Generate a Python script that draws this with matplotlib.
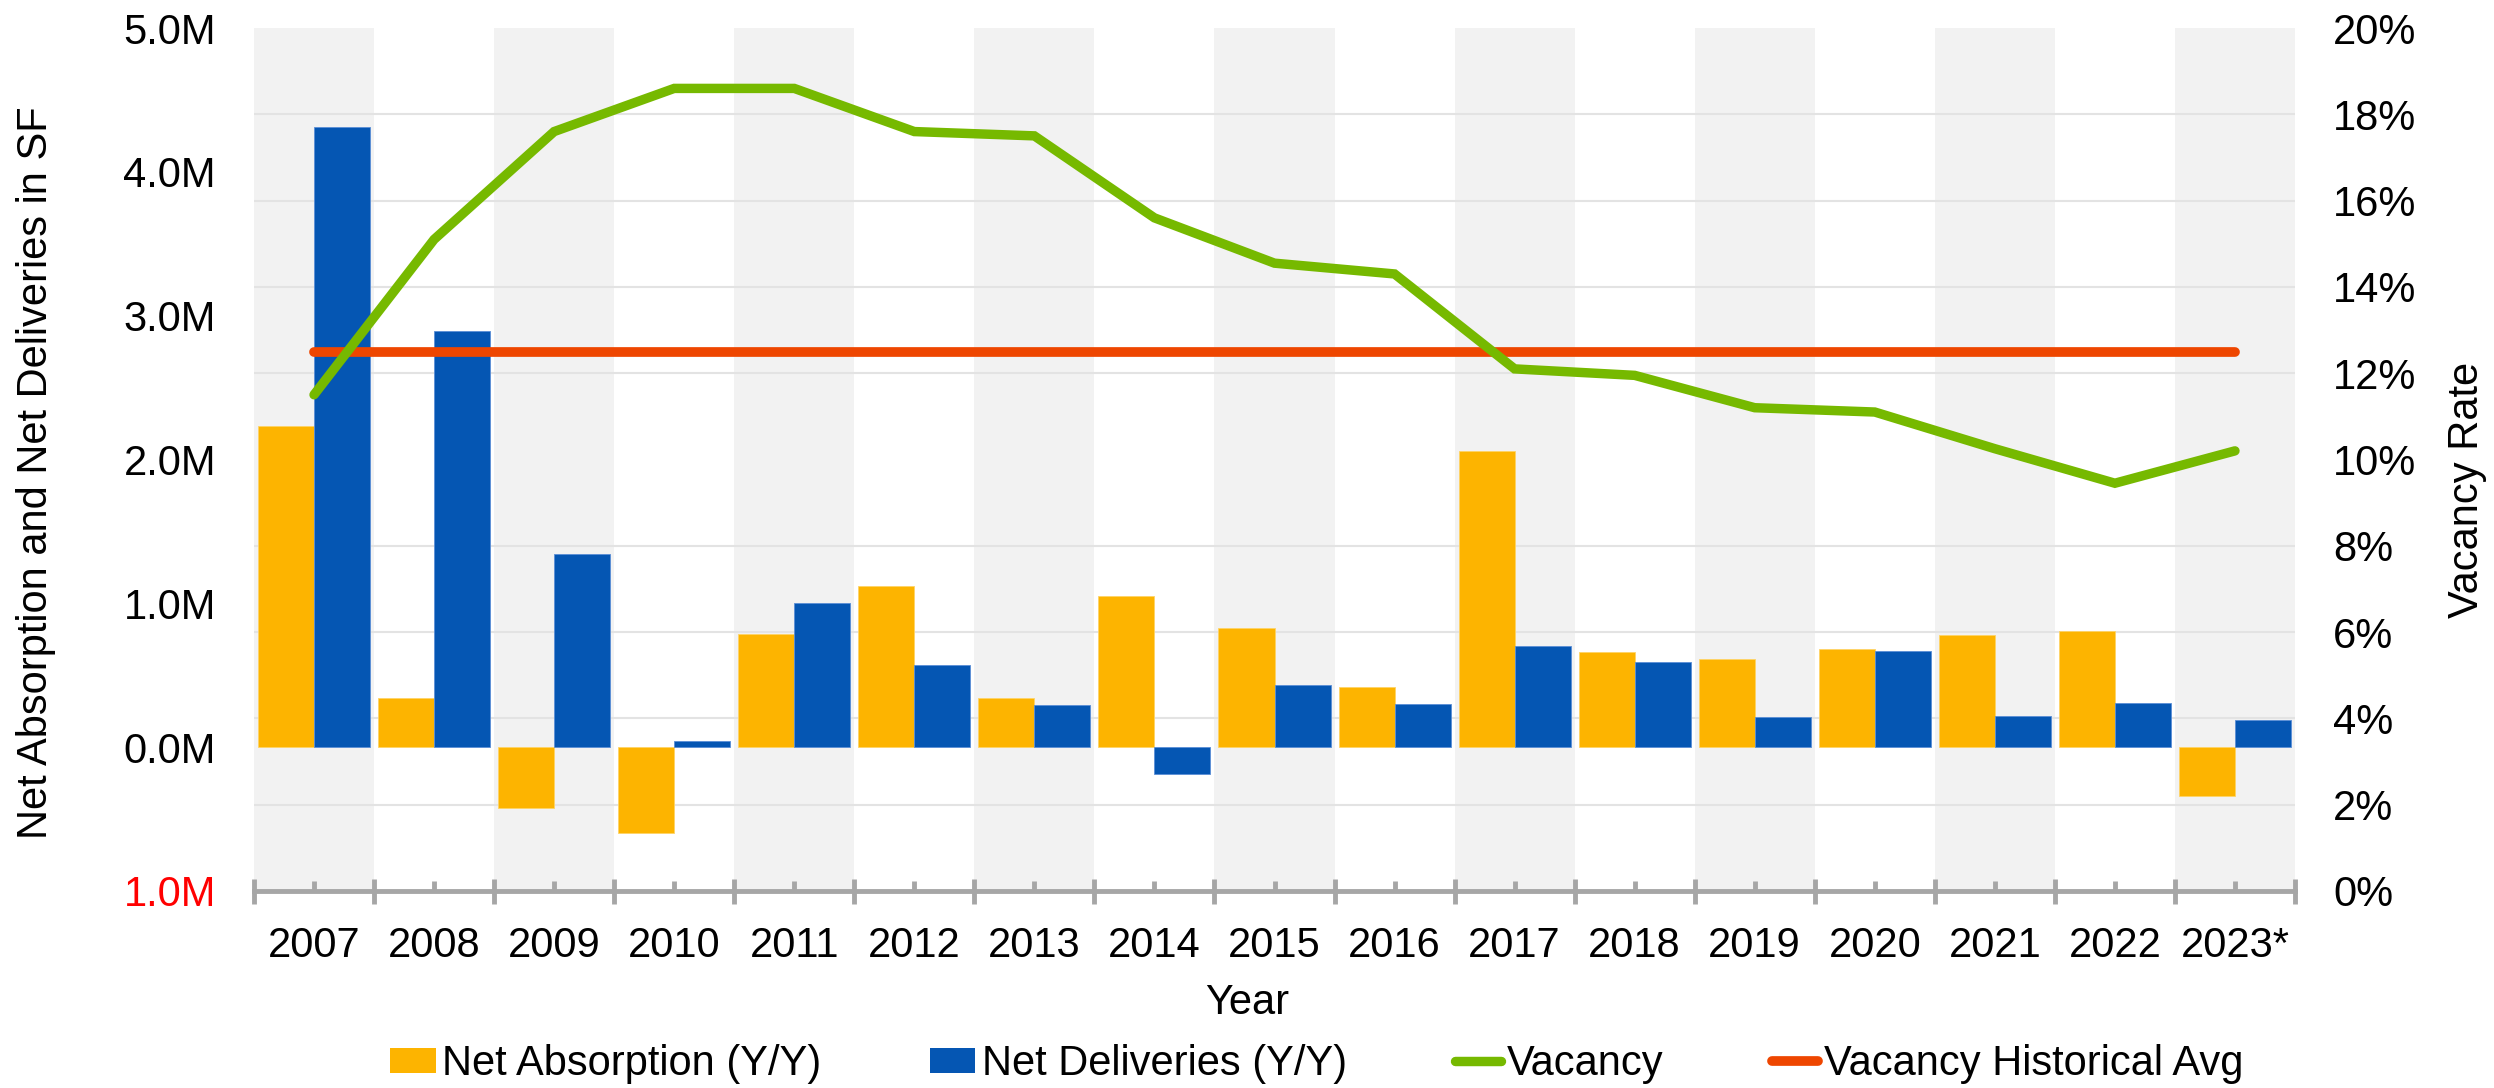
import matplotlib
matplotlib.use("Agg")
import matplotlib.pyplot as plt
import numpy as np
from matplotlib.lines import Line2D
from matplotlib.patches import Patch

plt.rcParams['font.family'] = ['Liberation Sans', 'DejaVu Sans']

# ---------------- data ----------------
years = ['2007', '2008', '2009', '2010', '2011', '2012', '2013', '2014', '2015',
         '2016', '2017', '2018', '2019', '2020', '2021', '2022', '2023*']
net_absorption_m = [2.23, 0.34, -0.42, -0.60, 0.79, 1.12, 0.34, 1.05, 0.83,
                    0.42, 2.06, 0.66, 0.61, 0.68, 0.78, 0.81, -0.34]
net_deliveries_m = [4.31, 2.89, 1.34, 0.04, 1.00, 0.57, 0.29, -0.19, 0.43,
                    0.30, 0.70, 0.59, 0.21, 0.67, 0.22, 0.31, 0.19]
vacancy_pct = [11.5, 15.1, 17.6, 18.6, 18.6, 17.6, 17.5, 15.6, 14.55,
               14.3, 12.1, 11.95, 11.2, 11.1, 10.25, 9.45, 10.2]
vacancy_hist_avg_pct = 12.5

left_ticks_m = [-1, 0, 1, 2, 3, 4, 5]
right_ticks_pct = [0, 2, 4, 6, 8, 10, 12, 14, 16, 18, 20]

# ---------------- style ----------------
C_ABS = '#FDB400'
C_DEL = '#0556B3'
C_VAC = '#76B900'
C_AVG = '#EE4600'
C_BAND = '#F2F2F2'
C_GRID = '#E3E3E3'
C_AXIS = '#A6A6A6'
FS = 30

W, H = 2494, 1088
fig = plt.figure(figsize=(W / 100, H / 100), dpi=100)
x0, x1, y_top, y_bot = 254, 2295, 28, 891
ax = fig.add_axes([x0 / W, (H - y_bot) / H, (x1 - x0) / W, (y_bot - y_top) / H])

n = len(years)
x = np.arange(n)
bw = 0.4667

# alternating background bands
for i in range(0, n, 2):
    ax.axvspan(i - 0.5, i + 0.5, color=C_BAND, lw=0, zorder=0.2)

# bars (values in SF)
na = np.array(net_absorption_m) * 1e6
nd = np.array(net_deliveries_m) * 1e6
ax.bar(x - bw / 2, na, width=bw, color=C_ABS, edgecolor='#FFD466', linewidth=0.6, zorder=2)
ax.bar(x + bw / 2, nd, width=bw, color=C_DEL, edgecolor='#5A8ED6', linewidth=0.6, zorder=2)

ax.set_xlim(-0.5, n - 0.5)
ylo, yhi = left_ticks_m[0] * 1e6, left_ticks_m[-1] * 1e6
ax.set_ylim(ylo, yhi)

# left ticks
ax.set_yticks([t * 1e6 for t in left_ticks_m])
ax.set_yticklabels([f"{abs(t):.1f}M" for t in left_ticks_m])
for t, lab in zip(left_ticks_m, ax.get_yticklabels()):
    if t < 0:
        lab.set_color('#FF0000')
ax.tick_params(axis='y', length=0, pad=27.4, labelsize=FS)

# gridlines aligned with right-axis ticks (drawn on primary axis, below bars)
grid_pos = [ylo + (yhi - ylo) * p / right_ticks_pct[-1] for p in right_ticks_pct]
ax.set_yticks(grid_pos, minor=True)
ax.tick_params(axis='y', which='minor', length=0)
ax.set_axisbelow(True)
ax.grid(True, axis='y', which='minor', color=C_GRID, linewidth=1.5, zorder=0.5)
ax.grid(False, axis='y', which='major')

# x ticks
ax.set_xticks(x)
ax.set_xticklabels(years)
ax.set_xticks(np.arange(-0.5, n, 1.0), minor=True)
ax.tick_params(axis='x', which='major', direction='in', length=7, width=3.5,
               color=C_AXIS, pad=25, labelsize=FS)
ax.tick_params(axis='x', which='minor', direction='inout', length=18, width=3.5,
               color=C_AXIS)

for s in ['top', 'left', 'right']:
    ax.spines[s].set_visible(False)
ax.spines['bottom'].set_color(C_AXIS)
ax.spines['bottom'].set_linewidth(3.5)
ax.spines['bottom'].set_zorder(3)

ax.set_ylabel('Net Absorption and Net Deliveries in SF', fontsize=FS)
ax.yaxis.set_label_coords(56 / W, (H - 473) / H, transform=fig.transFigure)
ax.set_xlabel('Year', fontsize=FS)
ax.xaxis.set_label_coords(0.5, (H - 983) / H, transform=fig.transFigure)

# right axis with lines
ax2 = ax.twinx()
ax2.set_ylim(0, right_ticks_pct[-1] / 100)
ax2.set_yticks([p / 100 for p in right_ticks_pct])
ax2.set_yticklabels([f"{p}%" for p in right_ticks_pct])
ax2.tick_params(axis='y', length=0, pad=27.4, labelsize=FS)
for s in ['top', 'left', 'right', 'bottom']:
    ax2.spines[s].set_visible(False)

vac = np.array(vacancy_pct) / 100
avg = np.full(n, vacancy_hist_avg_pct / 100)
ax2.plot(x, avg, color=C_AVG, linewidth=7, solid_capstyle='round', zorder=3)
ax2.plot(x, vac, color=C_VAC, linewidth=6.8, solid_capstyle='round',
         solid_joinstyle='miter', zorder=4)
ax2.set_ylabel('Vacancy Rate', fontsize=FS)
ax2.yaxis.set_label_coords(2447 / W, (H - 490) / H, transform=fig.transFigure)

# legend
handles = [
    Patch(facecolor=C_ABS, edgecolor='none'),
    Patch(facecolor=C_DEL, edgecolor='none'),
    Line2D([0], [0], color=C_VAC, linewidth=6.8, solid_capstyle='round'),
    Line2D([0], [0], color=C_AVG, linewidth=7, solid_capstyle='round'),
]
labels = ['Net Absorption (Y/Y)', 'Net Deliveries (Y/Y)', 'Vacancy', 'Vacancy Historical Avg']
fig.legend(handles, labels, loc='center', bbox_to_anchor=(0.528, (H - 1064) / H),
           ncol=4, frameon=False, fontsize=FS, handlelength=1.1, handleheight=0.55,
           handletextpad=0.15, columnspacing=2.6, borderaxespad=0, borderpad=0)

fig.savefig('out.png', dpi=100)
